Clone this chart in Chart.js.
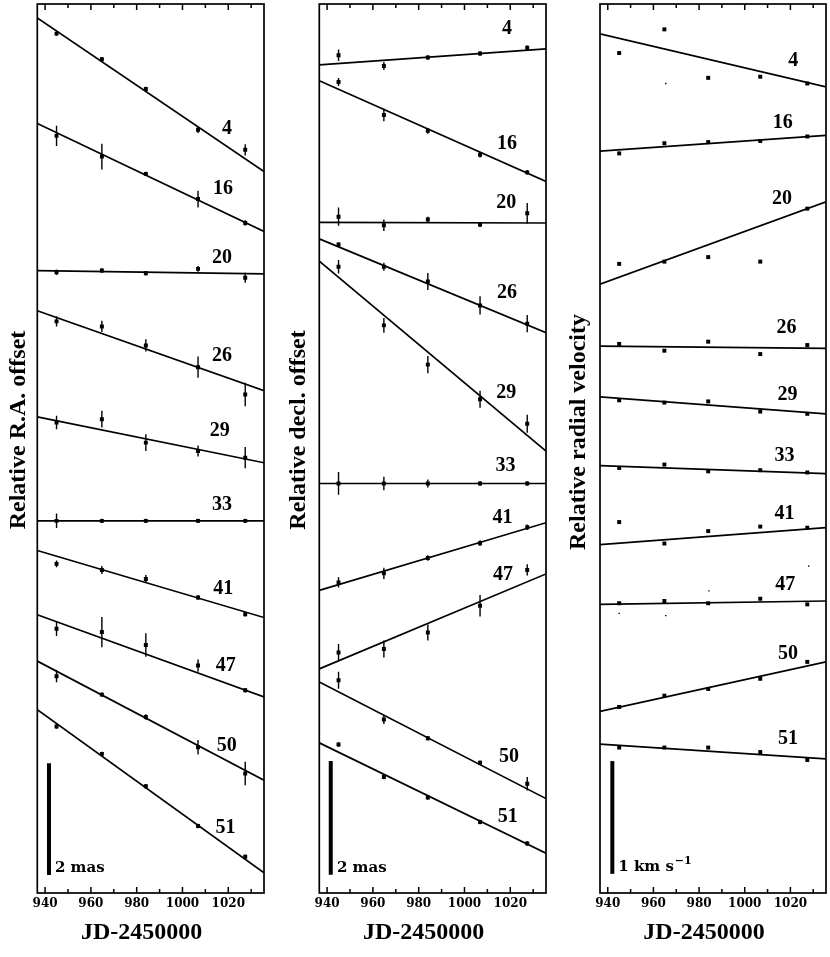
<!DOCTYPE html>
<html>
<head>
<meta charset="utf-8">
<script src="https://cdn.jsdelivr.net/npm/chart.js@4.4.1/dist/chart.umd.min.js"></script>
<style>
  html, body { margin: 0; padding: 0; background: #fff; }
  body { width: 830px; height: 957px; position: relative; overflow: hidden; }
  .panel { position: absolute; top: 0; height: 957px; }
  #p1 { left: 0; width: 280px; }
  #p2 { left: 280px; width: 280px; }
  #p3 { left: 560px; width: 270px; }
</style>
</head>
<body>
<div class="panel" id="p1"><canvas id="raChart" width="280" height="957"></canvas></div>
<div class="panel" id="p2"><canvas id="decChart" width="280" height="957"></canvas></div>
<div class="panel" id="p3"><canvas id="rvChart" width="270" height="957"></canvas></div>
<script>
// Relative offsets of ten stars vs. time, three panels (R.A., decl., radial velocity)
const starIds = ['4', '16', '20', '26', '29', '33', '41', '47', '50', '51'];
const jdEpochs = [945, 964.8, 984, 1006.8, 1027.4];
const jdRange = [936.6, 1035.6];
const jdTicks = [940, 960, 980, 1000, 1020];
const jdMinorTicks = [950, 970, 990, 1010, 1030];

// R.A. offsets (mas), one row per star
const raPoints = [
    [15.38, 14.92, 14.39, 13.66, 13.30],
    [13.55, 13.18, 12.87, 12.42, 11.99],
    [11.11, 11.14, 11.09, 11.17, 11.01],
    [10.23, 10.14, 9.80, 9.41, 8.92],
    [8.42, 8.48, 8.06, 7.91, 7.79],
    [6.66, 6.66, 6.66, 6.66, 6.66],
    [5.89, 5.78, 5.62, 5.29, 4.99],
    [4.73, 4.67, 4.44, 4.07, 3.63],
    [3.88, 3.55, 3.15, 2.61, 2.14],
    [2.98, 2.49, 1.91, 1.20, 0.65]
];
const raErrors = [
    [0.04, 0.04, 0.04, 0.06, 0.10],
    [0.18, 0.23, 0.04, 0.15, 0.05],
    [0.05, 0.04, 0.04, 0.05, 0.09],
    [0.09, 0.10, 0.11, 0.19, 0.21],
    [0.12, 0.15, 0.15, 0.10, 0.19],
    [0.13, 0.04, 0.04, 0.04, 0.04],
    [0.06, 0.07, 0.07, 0.04, 0.04],
    [0.13, 0.27, 0.21, 0.11, 0.04],
    [0.11, 0.04, 0.05, 0.13, 0.21],
    [0.04, 0.04, 0.04, 0.04, 0.04]
];
const raFitStart = [15.66, 13.77, 11.14, 10.42, 8.52, 6.66, 6.13, 4.98, 4.15, 3.28];
const raFitEnd = [12.91, 11.84, 11.08, 8.99, 7.70, 6.66, 4.93, 3.51, 2.02, 0.36];
const raLabelX = [1019.4, 1017.7, 1017.3, 1017.3, 1016.3, 1017.3, 1017.8, 1018.9, 1019.3, 1018.8];
const raLabelY = [13.68, 12.61, 11.36, 9.61, 8.27, 6.95, 5.45, 4.07, 2.64, 1.17];

// Decl. offsets (mas)
const decPoints = [
    [14.73, 14.54, 14.69, 14.76, 14.86],
    [14.26, 13.68, 13.40, 12.98, 12.67],
    [11.89, 11.74, 11.84, 11.75, 11.95],
    [11.40, 11.01, 10.75, 10.33, 10.01],
    [11.01, 9.98, 9.29, 8.68, 8.25],
    [7.20, 7.20, 7.20, 7.20, 7.20],
    [5.46, 5.62, 5.89, 6.15, 6.43],
    [4.23, 4.29, 4.58, 5.05, 5.68],
    [3.74, 3.05, 2.72, 2.29, 1.92],
    [2.61, 2.04, 1.68, 1.25, 0.87]
];
const decErrors = [
    [0.10, 0.07, 0.04, 0.04, 0.04],
    [0.07, 0.11, 0.05, 0.05, 0.04],
    [0.16, 0.10, 0.05, 0.04, 0.18],
    [0.04, 0.07, 0.15, 0.16, 0.15],
    [0.12, 0.13, 0.15, 0.15, 0.16],
    [0.20, 0.12, 0.07, 0.04, 0.04],
    [0.09, 0.10, 0.05, 0.05, 0.05],
    [0.15, 0.15, 0.14, 0.19, 0.10],
    [0.15, 0.08, 0.04, 0.04, 0.12],
    [0.04, 0.04, 0.04, 0.04, 0.04]
];
const decFitStart = [14.56, 14.28, 11.79, 11.50, 11.11, 7.20, 5.32, 3.94, 3.71, 2.64];
const decFitEnd = [14.84, 12.51, 11.78, 9.85, 7.77, 7.20, 6.51, 5.61, 1.66, 0.70];
const decLabelX = [1018.6, 1018.6, 1018.2, 1018.6, 1018.2, 1017.9, 1016.6, 1016.8, 1019.4, 1018.9];
const decLabelY = [15.19, 13.18, 12.13, 10.55, 8.79, 7.51, 6.60, 5.60, 2.39, 1.34];

// Radial velocities (km/s)
const rvPoints = [
    [7.45, 7.66, 7.23, 7.24, 7.18],
    [6.56, 6.65, 6.66, 6.67, 6.71],
    [5.58, 5.60, 5.64, 5.60, 6.07],
    [4.87, 4.81, 4.89, 4.78, 4.86],
    [4.37, 4.35, 4.36, 4.27, 4.25],
    [3.77, 3.80, 3.74, 3.75, 3.73],
    [3.29, 3.10, 3.21, 3.25, 3.24],
    [2.57, 2.59, 2.57, 2.61, 2.56],
    [1.65, 1.75, 1.81, 1.90, 2.05],
    [1.29, 1.29, 1.29, 1.25, 1.18]
];
const rvFitStart = [7.62, 6.58, 5.40, 4.85, 4.40, 3.79, 3.09, 2.56, 1.61, 1.32];
const rvFitEnd = [7.15, 6.72, 6.13, 4.83, 4.25, 3.72, 3.24, 2.59, 2.05, 1.19];
const rvLabelX = [1021.2, 1016.6, 1016.3, 1018.3, 1018.7, 1017.4, 1017.4, 1017.8, 1019.0, 1019.0];
const rvLabelY = [7.38, 6.83, 6.16, 5.01, 4.42, 3.88, 3.36, 2.73, 2.12, 1.37];
const rvFaintX = [965.4, 1028, 984.3, 945, 965.4];
const rvFaintY = [7.18, 2.90, 2.68, 2.48, 2.46];

const FONT = '"Liberation Serif", "DejaVu Serif", serif';
const WIDE_FONT = '"DejaVu Serif", "Liberation Serif", serif';

function makePanel(canvasId, p) {
    const datasets = [];

    // fitted straight lines
    p.fitStart.forEach((y0, i) => {
        datasets.push({
            data: [{x: jdRange[0], y: y0}, {x: jdRange[1], y: p.fitEnd[i]}],
            showLine: true, borderColor: '#000', borderWidth: 1.7, pointRadius: 0
        });
    });

    // error bars, broken up with null gaps
    if (p.errors) {
        const bars = [];
        p.points.forEach((row, i) => row.forEach((y, j) => {
            const e = p.errors[i][j];
            bars.push({x: jdEpochs[j], y: y - e}, {x: jdEpochs[j], y: y + e}, {x: jdEpochs[j], y: null});
        }));
        datasets.push({data: bars, showLine: true, spanGaps: false, borderColor: '#000', borderWidth: 1.4, pointRadius: 0});
    }

    const pts = [];
    p.points.forEach(row => row.forEach((y, j) => pts.push({x: jdEpochs[j], y})));
    datasets.push({data: pts, pointStyle: 'rect', pointRadius: 2.8, backgroundColor: '#000', borderWidth: 0});

    if (p.faintX) {
        datasets.push({
            data: p.faintX.map((x, i) => ({x, y: p.faintY[i]})),
            pointStyle: 'rect', pointRadius: 1, backgroundColor: '#000', borderWidth: 0
        });
    }

    // scale bar
    datasets.push({
        data: [{x: p.bar[0], y: p.bar[1]}, {x: p.bar[0], y: p.bar[2]}],
        showLine: true, borderColor: '#000', borderWidth: 4, borderCapStyle: 'butt', pointRadius: 0
    });

    const decor = {
        id: 'decor',
        afterDraw(chart) {
            const {ctx, chartArea: a, scales: {x, y}} = chart;
            ctx.save();
            ctx.strokeStyle = '#000';
            ctx.lineWidth = 1.7;
            ctx.strokeRect(a.left, a.top, a.right - a.left, a.bottom - a.top);

            ctx.lineWidth = 1.5;
            ctx.beginPath();
            jdTicks.forEach(v => {
                const px = x.getPixelForValue(v);
                ctx.moveTo(px, a.bottom); ctx.lineTo(px, a.bottom - 6);
                ctx.moveTo(px, a.top); ctx.lineTo(px, a.top + 6);
            });
            jdMinorTicks.forEach(v => {
                const px = x.getPixelForValue(v);
                ctx.moveTo(px, a.bottom); ctx.lineTo(px, a.bottom - 4);
                ctx.moveTo(px, a.top); ctx.lineTo(px, a.top + 4);
            });
            ctx.stroke();

            ctx.fillStyle = '#000';
            ctx.font = 'bold 20px ' + FONT;
            ctx.textAlign = 'center';
            ctx.textBaseline = 'middle';
            starIds.forEach((s, i) => {
                ctx.fillText(s, x.getPixelForValue(p.labelX[i]), y.getPixelForValue(p.labelY[i]));
            });

            // scale bar text
            ctx.textAlign = 'left';
            ctx.font = 'bold 15px ' + WIDE_FONT;
            const sx = x.getPixelForValue(p.barText[0]);
            const sy = y.getPixelForValue(p.barText[1]);
            ctx.fillText(p.barText[2], sx, sy);
            if (p.barText[3]) {
                const w = ctx.measureText(p.barText[2]).width;
                ctx.font = 'bold 11px ' + WIDE_FONT;
                ctx.fillText(p.barText[3], sx + w + 1, sy - 6);
            }

            // axis titles
            ctx.font = 'bold 24px ' + FONT;
            ctx.textAlign = 'center';
            ctx.fillText('JD-2450000', (a.left + a.right) / 2 - 9, 933);
            ctx.translate(18.3, p.titleY);
            ctx.rotate(-Math.PI / 2);
            ctx.fillText(p.yTitle, 0, 0);
            ctx.restore();
        }
    };

    const canvas = document.getElementById(canvasId);
    return new Chart(canvas, {
        type: 'scatter',
        data: {datasets},
        plugins: [decor],
        options: {
            responsive: false,
            animation: false,
            events: [],
            layout: {padding: {left: p.left, right: canvas.width - p.right, top: 2, bottom: 0}},
            plugins: {legend: {display: false}, tooltip: {enabled: false}},
            scales: {
                x: {
                    type: 'linear', min: jdRange[0], max: jdRange[1],
                    grid: {display: false, drawTicks: false},
                    border: {display: false},
                    afterBuildTicks: s => { s.ticks = jdTicks.map(v => ({value: v})); },
                    afterFit: s => { s.height = 64; },
                    ticks: {
                        padding: 4, color: '#000',
                        font: {family: WIDE_FONT, size: 12, weight: 'bold'},
                        callback: v => String(v)
                    }
                },
                y: {type: 'linear', min: 0, max: p.yMax, display: false}
            }
        }
    });
}

makePanel('raChart', {
    points: raPoints, errors: raErrors, fitStart: raFitStart, fitEnd: raFitEnd,
    labelX: raLabelX, labelY: raLabelY, yMax: 15.91, left: 37.3, right: 264,
    bar: [941.7, 0.32, 2.32], barText: [944.3, 0.45, '2 mas'],
    yTitle: 'Relative R.A. offset', titleY: 430
});
makePanel('decChart', {
    points: decPoints, errors: decErrors, fitStart: decFitStart, fitEnd: decFitEnd,
    labelX: decLabelX, labelY: decLabelY, yMax: 15.63, left: 39.3, right: 266,
    bar: [941.6, 0.32, 2.32], barText: [944.3, 0.44, '2 mas'],
    yTitle: 'Relative decl. offset', titleY: 430
});
makePanel('rvChart', {
    points: rvPoints, fitStart: rvFitStart, fitEnd: rvFitEnd,
    faintX: rvFaintX, faintY: rvFaintY,
    labelX: rvLabelX, labelY: rvLabelY, yMax: 7.885, left: 40, right: 267.3,
    bar: [942, 0.17, 1.17], barText: [944.6, 0.23, '1 km s', '\u22121'],
    yTitle: 'Relative radial velocity', titleY: 432
});
</script>
</body>
</html>
